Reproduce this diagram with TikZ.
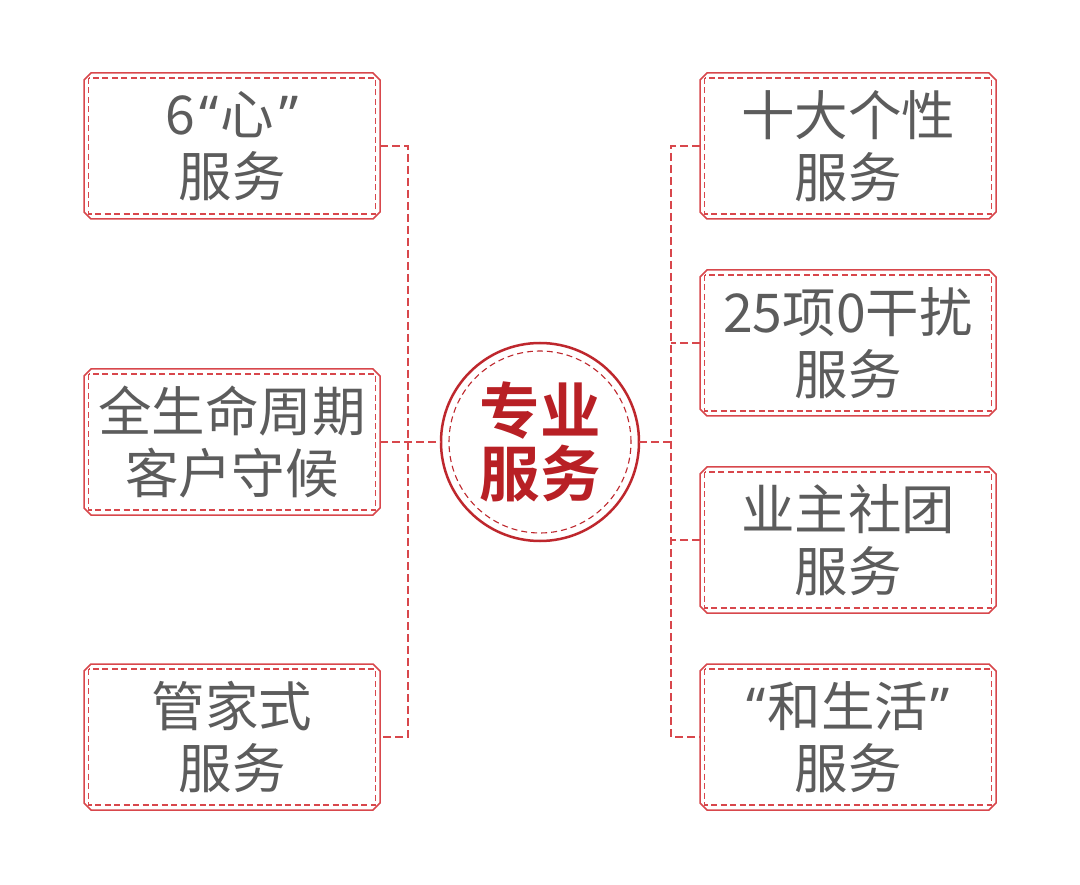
\documentclass[tikz,border=0pt]{standalone}
\usepackage{fontspec}
\setmainfont{Noto Sans CJK SC}[BoldFont={* Bold}]
\newfontfamily\latinq{Noto Sans}
\usetikzlibrary{calc}
\definecolor{bord}{HTML}{D8474C}
\definecolor{ring}{HTML}{BE272D}
\definecolor{txt}{HTML}{5C5C5C}
\definecolor{ctr}{HTML}{B82025}
\newcommand\myoq{\kern4pt{\latinq “}\kern2pt}
\newcommand\mycq{\kern5pt{\latinq ”}}
\tikzset{
  svc/.style={rectangle, minimum width=296pt, minimum height=146pt, inner sep=0pt, outer sep=0pt,
    align=center, text=txt, font=\fontsize{53.5}{62}\selectfont},
  outerline/.style={draw=bord, line width=1.5pt},
  innerdash/.style={draw=bord, line width=1.2pt, dash pattern=on 6pt off 3.5pt},
  conn/.style={draw=bord, line width=1.3pt, dash pattern=on 8pt off 4pt},
}
\newcommand\svcbox[4]{%
  \node[svc] (#1) at (#2,#3) {#4};
  \draw[outerline] ([xshift=7pt]#1.north west) -- ([xshift=-7pt]#1.north east)
    -- ([yshift=-7pt]#1.north east) -- ([yshift=7pt]#1.south east)
    -- ([xshift=-7pt]#1.south east) -- ([xshift=7pt]#1.south west)
    -- ([yshift=7pt]#1.south west) -- ([yshift=-7pt]#1.north west) -- cycle;
  \draw[innerdash] ([xshift=4.5pt,yshift=-5pt]#1.north west) rectangle ([xshift=-4.5pt,yshift=5pt]#1.south east);
}
\begin{document}
\begin{tikzpicture}[x=1pt,y=-1pt]
\useasboundingbox[fill=white] (0,0) rectangle (1080,885);
% left boxes
\svcbox{L1}{232}{146}{6\myoq 心\mycq\\服务}
\svcbox{L2}{232}{442}{全生命周期\\客户守候}
\svcbox{L3}{232}{737}{管家式\\服务}
% right boxes
\svcbox{R1}{848}{146}{十大个性\\服务}
\svcbox{R2}{848}{343}{25项0干扰\\服务}
\svcbox{R3}{848}{540}{业主社团\\服务}
\svcbox{R4}{848}{737}{{\latinq “}\kern2pt 和生活\kern2pt{\latinq ”}\\服务}
% center circle
\node[circle, draw=ring, line width=2.5pt, minimum size=198pt, inner sep=0pt, outer sep=0pt] (C) at (540,442) {};
\draw[draw=ring, line width=1.1pt, dash pattern=on 6pt off 4pt] (C.center) circle[radius=91pt];
\node[font=\bfseries\fontsize{60.5}{63}\selectfont, text=ctr, align=center] (CT) at (C.center) {专业\\服务};
% connectors
\coordinate (LT) at (408,146);
\coordinate (LB) at (408,737);
\coordinate (RT) at (671,146);
\coordinate (RB) at (671,737);
\draw[conn] (L1.east) -- (LT) -- (LB) -- (L3.east);
\draw[conn] (L2.east) -- (C.west);
\draw[conn] (R1.west) -- (RT) -- (RB) -- (R4.west);
\draw[conn] (R2.west) -- (R2.west -| RT);
\draw[conn] (R3.west) -- (R3.west -| RT);
\draw[conn] (C.east) -- (C.east -| RT);
\end{tikzpicture}
\end{document}
